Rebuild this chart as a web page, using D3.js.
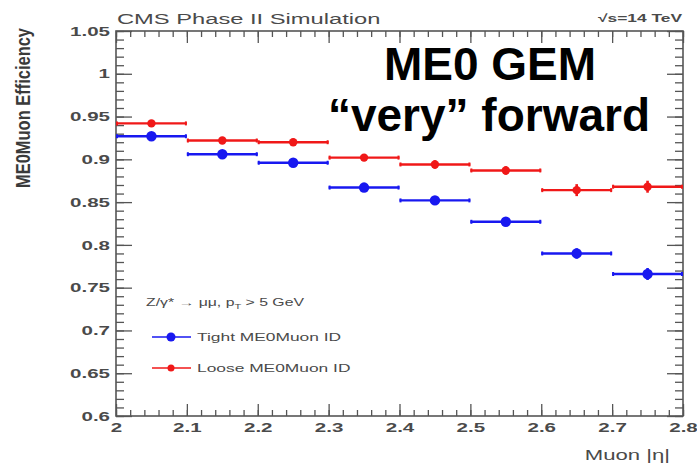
<!DOCTYPE html>
<html>
<head>
<meta charset="utf-8">
<script src="https://cdn.jsdelivr.net/npm/d3@7"></script>
<style>
  body { margin: 0; background: #fff; }
  svg { display: block; font-family: "Liberation Sans", Arial, Helvetica, sans-serif; }
</style>
</head>
<body>
<div id="chart"></div>
<script>
// data
var etaCenters = [2.05, 2.15, 2.25, 2.35, 2.45, 2.55, 2.65, 2.75];
var binHalf = 0.05;
var tightEff = [0.927, 0.906, 0.896, 0.867, 0.852, 0.827, 0.790, 0.766];
var tightErr = [0.002, 0.003, 0.003, 0.004, 0.004, 0.005, 0.006, 0.007];
var looseEff = [0.942, 0.922, 0.920, 0.902, 0.894, 0.887, 0.864, 0.868];
var looseErr = [0.003, 0.004, 0.004, 0.004, 0.005, 0.005, 0.007, 0.007];
var yTicks = [0.6, 0.65, 0.7, 0.75, 0.8, 0.85, 0.9, 0.95, 1, 1.05];
var xTicks = [2, 2.1, 2.2, 2.3, 2.4, 2.5, 2.6, 2.7, 2.8];

var svgWidth = 697, svgHeight = 464;
var plotLeft = 116, plotRight = 683, plotTop = 31, plotBottom = 416;
var SX = 1.58; // the source picture is stretched sideways
var axisColor = "#555", labelColor = "#4a4a4a";

var svg = d3.select("#chart").append("svg")
  .attr("width", svgWidth)
  .attr("height", svgHeight);

var x = d3.scaleLinear().domain([2, 2.8]).range([plotLeft, plotRight]);
var y = d3.scaleLinear().domain([0.6, 1.05]).range([plotBottom, plotTop]);

// minor tick values
var xMinor = d3.range(0, 41).map(i => +(2 + i * 0.02).toFixed(2));
var yMinor = d3.range(0, 46).map(i => +(0.6 + i * 0.01).toFixed(2));

function styleAxis(g) {
  g.select(".domain").remove();
  g.selectAll(".tick line").attr("stroke", axisColor).attr("stroke-width", 1.3);
}

// minor ticks on all sides
svg.append("g").attr("transform", `translate(${plotLeft},0)`)
  .call(d3.axisLeft(y).tickValues(yMinor).tickSize(-8).tickFormat("")).call(styleAxis);
svg.append("g").attr("transform", `translate(${plotRight},0)`)
  .call(d3.axisRight(y).tickValues(yMinor).tickSize(-8).tickFormat("")).call(styleAxis);
svg.append("g").attr("transform", `translate(0,${plotBottom})`)
  .call(d3.axisBottom(x).tickValues(xMinor).tickSize(-6).tickFormat("")).call(styleAxis);
svg.append("g").attr("transform", `translate(0,${plotTop})`)
  .call(d3.axisTop(x).tickValues(xMinor).tickSize(-6).tickFormat("")).call(styleAxis);

// major ticks
var leftAxis = svg.append("g").attr("transform", `translate(${plotLeft},0)`)
  .call(d3.axisLeft(y).tickValues(yTicks).tickSize(-16).tickPadding(6).tickFormat(d => d3.format("")(d)))
  .call(styleAxis);
svg.append("g").attr("transform", `translate(${plotRight},0)`)
  .call(d3.axisRight(y).tickValues(yTicks).tickSize(-16).tickFormat("")).call(styleAxis);
var bottomAxis = svg.append("g").attr("transform", `translate(0,${plotBottom})`)
  .call(d3.axisBottom(x).tickValues(xTicks).tickSize(-12).tickPadding(7).tickFormat(d => d3.format("")(d)))
  .call(styleAxis);
svg.append("g").attr("transform", `translate(0,${plotTop})`)
  .call(d3.axisTop(x).tickValues(xTicks).tickSize(-12).tickFormat("")).call(styleAxis);

// stretch tick labels sideways like the source
leftAxis.selectAll(".tick text")
  .attr("x", -6 / SX)
  .attr("transform", `scale(${SX},1)`)
  .attr("fill", labelColor)
  .style("font-size", "13px")
  .style("font-weight", "bold");
bottomAxis.selectAll(".tick text")
  .attr("transform", `scale(${SX},1)`)
  .attr("y", 7)
  .attr("fill", labelColor)
  .style("font-size", "13px")
  .style("font-weight", "bold");

// frame
svg.append("rect")
  .attr("x", plotLeft).attr("y", plotTop)
  .attr("width", plotRight - plotLeft).attr("height", plotBottom - plotTop)
  .attr("fill", "none")
  .attr("stroke", axisColor)
  .attr("stroke-width", 1.6);

function stretched(px, py, anchor, size) {
  return svg.append("text")
    .attr("transform", `translate(${px},${py}) scale(${SX},1)`)
    .attr("text-anchor", anchor)
    .attr("fill", labelColor)
    .style("font-size", size + "px");
}

// titles
stretched(117, 24, "start", 15).text("CMS Phase II Simulation");
stretched(682, 22, "end", 11).style("font-weight", "bold").text("\u221As=14 TeV");
stretched(670, 460, "end", 14).text("Muon |\u03b7|");

svg.append("text")
  .attr("transform", `translate(30,28) rotate(-90) scale(1,1.3)`)
  .attr("text-anchor", "end")
  .attr("fill", "#3a3a3a")
  .attr("textLength", 160)
  .attr("lengthAdjust", "spacingAndGlyphs")
  .style("font-size", "16px")
  .style("font-weight", "bold")
  .text("ME0Muon Efficiency");

// data series
function drawSeries(vals, errs, color, r) {
  var g = svg.append("g");
  var pts = etaCenters.map((c, i) => ({c: c, v: vals[i], e: errs[i]}));
  g.selectAll(".hbar").data(pts).enter().append("line")
    .attr("x1", d => x(d.c - binHalf)).attr("x2", d => x(d.c + binHalf))
    .attr("y1", d => y(d.v)).attr("y2", d => y(d.v))
    .attr("stroke", color).attr("stroke-width", 2.4);
  g.selectAll(".capl").data(pts).enter().append("line")
    .attr("x1", d => x(d.c - binHalf) + 1).attr("x2", d => x(d.c - binHalf) + 1)
    .attr("y1", d => y(d.v) - 2).attr("y2", d => y(d.v) + 2)
    .attr("stroke", color).attr("stroke-width", 2);
  g.selectAll(".capr").data(pts).enter().append("line")
    .attr("x1", d => x(d.c + binHalf) - 1).attr("x2", d => x(d.c + binHalf) - 1)
    .attr("y1", d => y(d.v) - 2).attr("y2", d => y(d.v) + 2)
    .attr("stroke", color).attr("stroke-width", 2);
  g.selectAll(".vbar").data(pts).enter().append("line")
    .attr("x1", d => x(d.c)).attr("x2", d => x(d.c))
    .attr("y1", d => y(d.v - d.e)).attr("y2", d => y(d.v + d.e))
    .attr("stroke", color).attr("stroke-width", 2.6);
  g.selectAll("circle").data(pts).enter().append("circle")
    .attr("cx", d => x(d.c)).attr("cy", d => y(d.v))
    .attr("r", r).attr("fill", color);
}
drawSeries(looseEff, looseErr, "#f01818", 4.2);
drawSeries(tightEff, tightErr, "#1818f0", 5.2);

// legend
stretched(146, 306, "start", 10).call(t => {
  t.append("tspan").text("Z/\u03b3* \u2192 \u03bc\u03bc, p");
  t.append("tspan").attr("dy", 3).style("font-size", "7px").text("T");
  t.append("tspan").attr("dy", -3).text(" > 5 GeV");
});
var legendItems = [
  {label: "Tight ME0Muon ID", color: "#1818f0", r: 4.5, y: 337},
  {label: "Loose ME0Muon ID", color: "#f01818", r: 3.5, y: 368}
];
legendItems.forEach(function(d) {
  svg.append("line")
    .attr("x1", 152).attr("x2", 191).attr("y1", d.y).attr("y2", d.y)
    .attr("stroke", d.color).attr("stroke-width", 1.5);
  svg.append("circle")
    .attr("cx", 171).attr("cy", d.y).attr("r", d.r).attr("fill", d.color);
  stretched(197, d.y + 4, "start", 11).text(d.label);
});

// overlay caption
svg.append("text")
  .attr("x", 490).attr("y", 80)
  .attr("text-anchor", "middle")
  .style("font-size", "46px").style("font-weight", "bold")
  .attr("fill", "#000")
  .text("ME0 GEM");
svg.append("text")
  .attr("x", 489).attr("y", 131)
  .attr("text-anchor", "middle")
  .style("font-size", "46px").style("font-weight", "bold")
  .attr("fill", "#000")
  .text("\u201cvery\u201d forward");
</script>
</body>
</html>
